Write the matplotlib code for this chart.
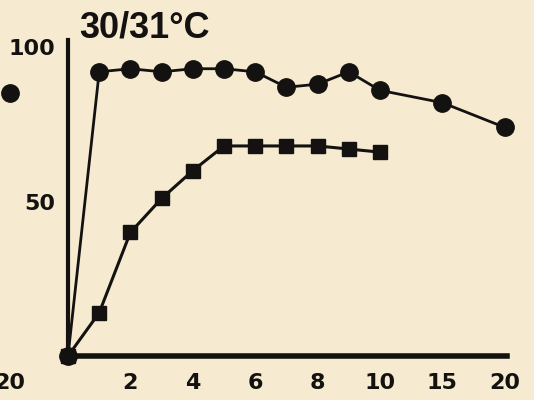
"""
Survie / croissance a 30/31 C : deux series sur un axe x a pas variable
(pas de 2 jusqu'a 10, puis pas de 5).
"""
import numpy as np
import matplotlib.pyplot as plt

# Donnees
x_circles = [0, 1, 2, 3, 4, 5, 6, 7, 8, 9, 10, 15, 20]
y_circles = [0, 92, 93, 92, 93, 93, 92, 87, 88, 92, 86, 82, 74]
x_squares = [0, 1, 2, 3, 4, 5, 6, 7, 8, 9, 10]
y_squares = [0, 14, 40, 51, 60, 68, 68, 68, 68, 67, 66]
x_ticks = [2, 4, 6, 8, 10, 15, 20]
y_ticks = [50, 100]
title = "30/31°C"

# fragment du graphique voisin (coupe a gauche)
x_neighbour = [20]
y_neighbour = [85]

BG = "#f6ebd1"
INK = "#141210"
TICK_FONT = dict(family="DejaVu Sans", weight="bold", size=16)


def fwd(x):
    x = np.asarray(x, dtype=float)
    return np.where(x <= 10, x, 10 + (x - 10) * 0.4)


def inv(p):
    p = np.asarray(p, dtype=float)
    return np.where(p <= 10, p, 10 + (p - 10) / 0.4)


plt.rcParams["font.family"] = ["Liberation Sans", "DejaVu Sans"]

W, H = 534, 400
fig = plt.figure(figsize=(W / 100, H / 100), dpi=100, facecolor=BG)

left, right, bottom, top = 68, 507, 356, 40
ax = fig.add_axes([left / W, 1 - bottom / H, (right - left) / W, (bottom - top) / H])
ax.set_facecolor(BG)
ax.set_xscale("function", functions=(fwd, inv))
ax.set_xlim(0, inv(14.07))
ax.set_ylim(0, 102.3)

ax.plot(x_squares, y_squares, color=INK, lw=2.2, marker="s", ms=10.5,
        mec=INK, mfc=INK, clip_on=False, zorder=3)
ax.plot(x_circles, y_circles, color=INK, lw=2.0, marker="o", ms=12.5,
        mec=INK, mfc=INK, clip_on=False, zorder=4)

for s in ["top", "right"]:
    ax.spines[s].set_visible(False)
ax.spines["left"].set_linewidth(3.0)
ax.spines["bottom"].set_linewidth(4.0)
ax.spines["left"].set_color(INK)
ax.spines["bottom"].set_color(INK)

ax.set_xticks(x_ticks)
ax.set_xticklabels([str(t) for t in x_ticks], fontdict=TICK_FONT)
ax.set_yticks(y_ticks)
ax.set_yticklabels([str(t) for t in y_ticks], fontdict=TICK_FONT)
ax.minorticks_off()
ax.tick_params(axis="both", length=0, colors=INK)
ax.tick_params(axis="x", pad=12)
ax.tick_params(axis="y", pad=9)

fig.text(79 / W, 1 - 28 / H, title, fontsize=26, fontweight="bold",
         color=INK, va="center", ha="left")

# graphique voisin, presque entierement hors cadre
shift = 503 - 8
ax2 = fig.add_axes([(left - shift) / W, 1 - bottom / H, (right - left) / W, (bottom - top) / H])
ax2.set_xscale("function", functions=(fwd, inv))
ax2.set_xlim(0, inv(14.07))
ax2.set_ylim(0, 102.3)
ax2.patch.set_visible(False)
for s in ax2.spines.values():
    s.set_visible(False)
ax2.plot(x_neighbour, y_neighbour, "o", color=INK, ms=12.5, clip_on=False)
ax2.set_xticks([20])
ax2.set_xticklabels(["20"], fontdict=TICK_FONT)
ax2.set_yticks([])
ax2.minorticks_off()
ax2.tick_params(axis="x", length=0, colors=INK, pad=12)

fig.savefig("out.png", dpi=100, facecolor=BG)
